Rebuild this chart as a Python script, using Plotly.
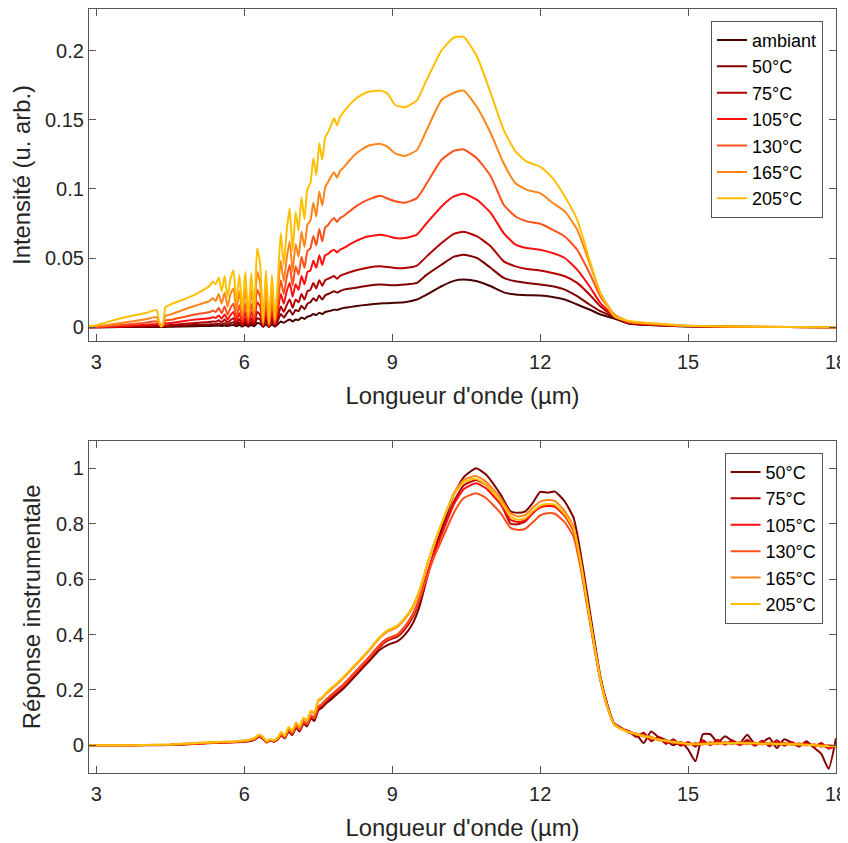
import plotly.graph_objects as go

# ---------------- Top panel data ----------------
x_top = [2.85, 3.0, 3.5, 4.0, 4.22, 4.27, 4.31, 4.35, 4.40, 4.5, 5.0,
         5.30, 5.36, 5.42, 5.48, 5.54, 5.60, 5.66, 5.72, 5.78, 5.84,
         5.90, 5.96, 6.02, 6.08, 6.14, 6.20, 6.26, 6.32, 6.38, 6.44,
         6.50, 6.56, 6.62, 6.68, 6.74, 6.80, 6.86, 6.92, 6.98, 7.04,
         7.10, 7.16, 7.22, 7.28, 7.34, 7.40, 7.46, 7.52, 7.58, 7.64,
         7.70, 7.76, 7.82, 7.88, 7.94, 8.00,
         8.25, 8.5,
         8.76, 8.9, 9.06, 9.25, 9.5, 9.7, 10.0, 10.25, 10.45, 10.72,
         11.0, 11.26, 11.5, 11.73, 12.0, 12.25, 12.5, 12.75, 13.0, 13.22,
         13.5, 13.8, 14.2, 14.6, 15.0, 16.0, 17.0, 18.0]

top_labels = ["ambiant", "50°C", "75°C", "105°C", "130°C", "165°C", "205°C"]

y_amb = [0, 0, 0.0001, 0.0002, 0.0002, 0.0002, 0.0001, 0.0001, 0.0002, 0.0003, 0.0007,
         0.0009, 0.001, 0.001, 0.0012, 0.0009, 0.0013, 0.0008, 0.0013, 0.0016, 0.0007,
         0.0015, 0.0005, 0.0017, 0.0004, 0.0017, 0.0007, 0.003, 0.0025, 0.0003, 0.0022,
         0.0002, 0.0021, 0.0004, 0.0021, 0.0042, 0.0032, 0.0045, 0.0056, 0.0042, 0.0056,
         0.0052, 0.007, 0.006, 0.0077, 0.0082, 0.0095, 0.0088, 0.0105, 0.0095, 0.011,
         0.0115, 0.012, 0.0127, 0.0125, 0.0132, 0.0138,
         0.0152, 0.0163,
         0.0171, 0.0174, 0.0176, 0.018, 0.020, 0.0236, 0.0296, 0.0335, 0.0344, 0.0332,
         0.0296, 0.0252, 0.0236, 0.0231, 0.0229, 0.0219, 0.020, 0.0164, 0.0128, 0.0092,
         0.0063, 0.0025, 0.0015, 0.001, 0.0005, 0.0002, 0.0001, 0.0]

y_50 = [0, 0, 0.0002, 0.0004, 0.0006, 0.0005, 0.0003, 0.0003, 0.0006, 0.0007, 0.0016,
        0.002, 0.0022, 0.0021, 0.0026, 0.0019, 0.0029, 0.0017, 0.0028, 0.0036, 0.0015,
        0.0034, 0.001, 0.0038, 0.0009, 0.0038, 0.0015, 0.0065, 0.0055, 0.0006, 0.005,
        0.0005, 0.0047, 0.0008, 0.0047, 0.0095, 0.007, 0.010, 0.0125, 0.009, 0.0125,
        0.0115, 0.0155, 0.013, 0.017, 0.018, 0.021, 0.019, 0.023, 0.020, 0.023,
        0.024, 0.025, 0.026, 0.025, 0.026, 0.027,
        0.0285, 0.030,
        0.0308, 0.0305, 0.0303, 0.0308, 0.032, 0.038, 0.0452, 0.051, 0.0524, 0.050,
        0.0428, 0.0356, 0.0332, 0.032, 0.0308, 0.0296, 0.0272, 0.0224, 0.0164, 0.0116,
        0.0072, 0.0028, 0.0018, 0.0012, 0.0006, 0.0002, 0.0001, 0.0]

y_75 = [0, 0, 0.0004, 0.0009, 0.0012, 0.001, 0.0006, 0.0006, 0.0013, 0.0015, 0.0031,
        0.0038, 0.0042, 0.004, 0.005, 0.0036, 0.0055, 0.0032, 0.0052, 0.0065, 0.0027,
        0.006, 0.0018, 0.0066, 0.0015, 0.0066, 0.0025, 0.011, 0.009, 0.001, 0.008,
        0.0007, 0.0075, 0.0013, 0.0075, 0.015, 0.011, 0.016, 0.020, 0.014, 0.020,
        0.018, 0.024, 0.020, 0.026, 0.027, 0.032, 0.028, 0.034, 0.030, 0.034,
        0.035, 0.036, 0.037, 0.035, 0.037, 0.038,
        0.041, 0.043,
        0.044, 0.0435, 0.0428, 0.0428, 0.0445, 0.0512, 0.0608, 0.0675, 0.069, 0.0656,
        0.0584, 0.0476, 0.044, 0.042, 0.041, 0.0392, 0.0368, 0.032, 0.0236, 0.0152,
        0.008, 0.003, 0.002, 0.0013, 0.0007, 0.0003, 0.0001, 0.0]

y_105 = [0, 0.0001, 0.0008, 0.0018, 0.0024, 0.002, 0.001, 0.001, 0.0027, 0.003, 0.0056,
         0.0065, 0.0072, 0.0068, 0.0085, 0.0062, 0.0092, 0.0055, 0.0088, 0.011, 0.0045,
         0.010, 0.003, 0.011, 0.0025, 0.011, 0.004, 0.018, 0.015, 0.0015, 0.013,
         0.001, 0.012, 0.002, 0.012, 0.024, 0.017, 0.026, 0.032, 0.022, 0.031,
         0.027, 0.037, 0.031, 0.040, 0.041, 0.048, 0.043, 0.052, 0.045, 0.052,
         0.053, 0.055, 0.056, 0.054, 0.056, 0.057,
         0.062, 0.0655,
         0.0669, 0.066, 0.0644, 0.0644, 0.0669, 0.0753, 0.0873, 0.0945, 0.0964, 0.092,
         0.0825, 0.068, 0.0597, 0.0572, 0.056, 0.0536, 0.050, 0.0416, 0.0296, 0.0176,
         0.008, 0.0034, 0.0022, 0.0014, 0.0008, 0.0003, 0.0001, 0.0]

y_130 = [0.0001, 0.0003, 0.0015, 0.0033, 0.0042, 0.003, 0.001, 0.0015, 0.0048, 0.0053, 0.0092,
         0.011, 0.012, 0.011, 0.014, 0.010, 0.015, 0.009, 0.014, 0.017, 0.007,
         0.016, 0.005, 0.017, 0.004, 0.017, 0.006, 0.027, 0.022, 0.002, 0.019,
         0.001, 0.018, 0.003, 0.017, 0.034, 0.024, 0.036, 0.045, 0.030, 0.044,
         0.038, 0.051, 0.043, 0.055, 0.057, 0.066, 0.059, 0.071, 0.062, 0.072,
         0.074, 0.077, 0.079, 0.076, 0.079, 0.080,
         0.087, 0.092,
         0.095, 0.093, 0.091, 0.090, 0.0933, 0.104, 0.121, 0.1275, 0.1285, 0.122,
         0.109, 0.0885, 0.080, 0.0765, 0.0748, 0.0705, 0.0656, 0.056, 0.0392, 0.0224,
         0.0092, 0.0037, 0.0025, 0.0016, 0.0009, 0.0004, 0.0001, 0.0]

y_165 = [0.0003, 0.0006, 0.003, 0.0058, 0.0072, 0.004, 0.001, 0.002, 0.0082, 0.0092, 0.0155,
         0.019, 0.021, 0.019, 0.024, 0.017, 0.025, 0.015, 0.024, 0.028, 0.012,
         0.026, 0.008, 0.028, 0.006, 0.027, 0.009, 0.040, 0.032, 0.003, 0.029,
         0.002, 0.027, 0.004, 0.025, 0.048, 0.033, 0.050, 0.062, 0.040, 0.060,
         0.051, 0.069, 0.058, 0.074, 0.077, 0.090, 0.080, 0.098, 0.088, 0.101,
         0.105, 0.109, 0.112, 0.108, 0.113, 0.115,
         0.125, 0.131,
         0.1325, 0.1305, 0.1257, 0.1238, 0.128, 0.1426, 0.1642, 0.1695, 0.171, 0.159,
         0.140, 0.1185, 0.104, 0.0993, 0.0969, 0.090, 0.0837, 0.0705, 0.0464, 0.0248,
         0.0092, 0.004, 0.0027, 0.0018, 0.001, 0.0004, 0.0001, 0.0]

y_205 = [0.0008, 0.0015, 0.0065, 0.0103, 0.0125, 0.004, 0.0005, 0.002, 0.0145, 0.0163, 0.0236,
         0.030, 0.033, 0.031, 0.036, 0.026, 0.037, 0.022, 0.035, 0.041, 0.018,
         0.038, 0.012, 0.040, 0.008, 0.039, 0.012, 0.057, 0.046, 0.004, 0.041,
         0.003, 0.038, 0.006, 0.034, 0.068, 0.045, 0.070, 0.086, 0.055, 0.083,
         0.070, 0.094, 0.078, 0.100, 0.104, 0.122, 0.110, 0.133, 0.121, 0.137,
         0.141, 0.146, 0.151, 0.146, 0.152, 0.155,
         0.165, 0.170,
         0.171, 0.169, 0.1606, 0.159, 0.164, 0.179, 0.200, 0.2094, 0.2098, 0.1955,
         0.169, 0.1426, 0.127, 0.1197, 0.116, 0.108, 0.0945, 0.0777, 0.0488, 0.0248,
         0.008, 0.0045, 0.003, 0.002, 0.001, 0.0005, 0.0002, 0.0]

top_series = [y_amb, y_50, y_75, y_105, y_130, y_165, y_205]
top_colors = ["#4a0000", "#800000", "#b30000", "#ff1010", "#ff4f1a", "#ff8419", "#ffbf00"]

# ---------------- Bottom panel data ----------------
x_bot = [2.85, 3.5, 4.0, 4.5, 5.0, 5.5, 5.8, 6.0, 6.1, 6.2,
         6.3, 6.38, 6.45, 6.52, 6.6, 6.68, 6.75, 6.82, 6.9, 6.97,
         7.05, 7.12, 7.2, 7.27, 7.35, 7.42, 7.5, 7.57, 7.65, 7.75,
         7.9, 8.0, 8.25, 8.5, 8.75, 8.9, 9.0, 9.1, 9.25, 9.4,
         9.55, 9.7, 9.85, 10.0, 10.25, 10.45, 10.7, 10.9, 11.2, 11.4,
         11.55, 11.7, 11.85, 12.0, 12.15, 12.3, 12.5, 12.68, 12.82, 12.95,
         13.1, 13.22, 13.36, 13.5, 13.65, 13.8, 13.95, 14.1, 14.25, 14.4,
         14.55, 14.7, 14.85, 15.0, 15.15, 15.3, 15.45, 15.6, 15.75, 15.9,
         16.05, 16.2, 16.35, 16.5, 16.65, 16.8, 16.95, 17.1, 17.25, 17.4,
         17.55, 17.7, 17.85, 18.0]

bot_labels = ["50°C", "75°C", "105°C", "130°C", "165°C", "205°C"]

r_50 = [0.0, 0.0, 0.0, 0.001, 0.005, 0.009, 0.011, 0.013, 0.015, 0.020,
        0.031, 0.023, 0.010, 0.017, 0.013, 0.021, 0.036, 0.025, 0.050, 0.037,
        0.063, 0.050, 0.078, 0.068, 0.097, 0.088, 0.126, 0.135, 0.150, 0.164,
        0.188, 0.203, 0.250, 0.298, 0.345, 0.362, 0.369, 0.375, 0.398, 0.435,
        0.500, 0.600, 0.700, 0.780, 0.905, 0.968, 1.000, 0.978, 0.905, 0.845,
        0.840, 0.845, 0.875, 0.915, 0.912, 0.916, 0.880, 0.820, 0.695, 0.550,
        0.380, 0.250, 0.150, 0.080, 0.063, 0.045, 0.040, 0.008, 0.050, 0.030,
        0.020, 0.000, 0.012, -0.015, -0.058, 0.040, 0.040, 0.010, 0.033, 0.015,
        0.008, 0.038, 0.005, 0.010, 0.026, -0.010, 0.022, 0.010, -0.004, 0.015,
        -0.008, -0.030, -0.085, 0.026]

r_75 = [0.0, 0.0, 0.001, 0.002, 0.006, 0.010, 0.012, 0.014, 0.016, 0.021,
        0.033, 0.025, 0.011, 0.018, 0.014, 0.023, 0.039, 0.027, 0.054, 0.040,
        0.068, 0.054, 0.083, 0.073, 0.103, 0.095, 0.133, 0.142, 0.158, 0.172,
        0.195, 0.210, 0.257, 0.305, 0.356, 0.378, 0.385, 0.392, 0.418, 0.458,
        0.520, 0.610, 0.695, 0.765, 0.880, 0.938, 0.958, 0.940, 0.875, 0.800,
        0.798, 0.808, 0.840, 0.862, 0.868, 0.865, 0.832, 0.778, 0.662, 0.522,
        0.360, 0.242, 0.142, 0.077, 0.060, 0.052, 0.030, 0.045, 0.015, 0.030,
        0.005, 0.022, -0.002, 0.012, -0.005, 0.018, 0.000, 0.020, 0.002, 0.018,
        0.000, 0.020, -0.002, 0.016, -0.004, 0.018, -0.002, 0.012, -0.004, 0.010,
        -0.006, 0.008, -0.012, 0.004]

r_105 = [0.0, 0.0, 0.001, 0.002, 0.006, 0.010, 0.012, 0.015, 0.017, 0.022,
         0.035, 0.026, 0.012, 0.019, 0.015, 0.024, 0.041, 0.029, 0.057, 0.043,
         0.071, 0.057, 0.087, 0.077, 0.108, 0.100, 0.140, 0.148, 0.164, 0.180,
         0.203, 0.218, 0.265, 0.313, 0.363, 0.385, 0.392, 0.400, 0.428, 0.468,
         0.530, 0.615, 0.695, 0.760, 0.870, 0.925, 0.946, 0.928, 0.870, 0.814,
         0.806, 0.812, 0.838, 0.858, 0.864, 0.861, 0.828, 0.772, 0.655, 0.515,
         0.355, 0.238, 0.140, 0.076, 0.059, 0.050, 0.038, 0.036, 0.024, 0.024,
         0.012, 0.014, 0.004, 0.010, 0.001, 0.012, 0.003, 0.013, 0.004, 0.012,
         0.003, 0.012, 0.002, 0.011, 0.003, 0.010, 0.000, 0.009, 0.001, 0.006,
         -0.002, 0.003, -0.010, -0.004]

r_130 = [0.0, 0.0, 0.001, 0.002, 0.006, 0.010, 0.012, 0.015, 0.017, 0.022,
         0.034, 0.026, 0.012, 0.019, 0.015, 0.024, 0.040, 0.028, 0.056, 0.042,
         0.070, 0.056, 0.085, 0.076, 0.106, 0.098, 0.138, 0.146, 0.162, 0.178,
         0.200, 0.215, 0.262, 0.310, 0.360, 0.382, 0.390, 0.398, 0.425, 0.465,
         0.525, 0.605, 0.680, 0.740, 0.840, 0.893, 0.910, 0.893, 0.838, 0.785,
         0.778, 0.782, 0.805, 0.830, 0.838, 0.836, 0.805, 0.752, 0.640, 0.505,
         0.350, 0.235, 0.140, 0.078, 0.060, 0.048, 0.043, 0.032, 0.031, 0.018,
         0.019, 0.008, 0.011, 0.002, 0.008, 0.003, 0.011, 0.004, 0.012, 0.005,
         0.011, 0.004, 0.010, 0.003, 0.009, 0.002, 0.009, 0.001, 0.007, -0.001,
         0.004, -0.005, 0.001, -0.006]

r_165 = [0.0, 0.0, 0.001, 0.003, 0.008, 0.012, 0.014, 0.017, 0.019, 0.025,
         0.037, 0.029, 0.014, 0.021, 0.017, 0.027, 0.046, 0.033, 0.064, 0.050,
         0.080, 0.066, 0.097, 0.088, 0.121, 0.114, 0.160, 0.168, 0.184, 0.200,
         0.224, 0.241, 0.288, 0.336, 0.388, 0.410, 0.418, 0.427, 0.455, 0.492,
         0.555, 0.645, 0.728, 0.800, 0.910, 0.958, 0.972, 0.952, 0.892, 0.838,
         0.826, 0.832, 0.858, 0.880, 0.886, 0.882, 0.846, 0.788, 0.668, 0.525,
         0.362, 0.242, 0.142, 0.077, 0.058, 0.048, 0.041, 0.034, 0.030, 0.020,
         0.017, 0.011, 0.009, 0.004, 0.006, 0.004, 0.008, 0.006, 0.009, 0.006,
         0.010, 0.006, 0.008, 0.005, 0.007, 0.004, 0.007, 0.003, 0.005, 0.001,
         0.002, -0.003, -0.001, -0.004]

r_205 = [0.0, 0.0, 0.001, 0.003, 0.008, 0.012, 0.014, 0.017, 0.020, 0.026,
         0.038, 0.030, 0.015, 0.022, 0.018, 0.028, 0.048, 0.035, 0.066, 0.052,
         0.082, 0.068, 0.100, 0.090, 0.125, 0.118, 0.165, 0.172, 0.188, 0.205,
         0.228, 0.245, 0.292, 0.340, 0.392, 0.415, 0.423, 0.432, 0.460, 0.497,
         0.560, 0.650, 0.730, 0.800, 0.905, 0.950, 0.962, 0.940, 0.880, 0.826,
         0.814, 0.820, 0.845, 0.865, 0.871, 0.868, 0.835, 0.780, 0.660, 0.520,
         0.360, 0.240, 0.140, 0.075, 0.058, 0.047, 0.040, 0.033, 0.027, 0.021,
         0.016, 0.012, 0.008, 0.005, 0.004, 0.005, 0.006, 0.007, 0.007, 0.008,
         0.008, 0.007, 0.007, 0.006, 0.006, 0.005, 0.005, 0.004, 0.003, 0.002,
         0.000, -0.002, -0.003, -0.002]

bot_series = [r_50, r_75, r_105, r_130, r_165, r_205]
bot_colors = ["#800000", "#b30000", "#ff1010", "#ff4f1a", "#ff8419", "#ffbf00"]

top_yticks = [0, 0.05, 0.1, 0.15, 0.2]
top_yticktext = ["0", "0.05", "0.1", "0.15", "0.2"]
bot_yticks = [0, 0.2, 0.4, 0.6, 0.8, 1]
bot_yticktext = ["0", "0.2", "0.4", "0.6", "0.8", "1"]
x_ticks = [3, 6, 9, 12, 15, 18]

FONT = "Liberation Sans, Arial, sans-serif"
INK = "#262626"
FRAME = "#555555"

fig = go.Figure()
for lab, ys, col in zip(top_labels, top_series, top_colors):
    fig.add_trace(go.Scatter(x=x_top, y=ys, name=lab, mode="lines",
                             line=dict(color=col, width=2, shape="spline", smoothing=0.5),
                             xaxis="x", yaxis="y", legend="legend"))
for lab, ys, col in zip(bot_labels, bot_series, bot_colors):
    fig.add_trace(go.Scatter(x=x_bot, y=ys, name=lab, mode="lines",
                             line=dict(color=col, width=2, shape="spline", smoothing=0.5),
                             xaxis="x2", yaxis="y2", legend="legend2"))

axis_common = dict(showline=True, linecolor=FRAME, linewidth=1.2, mirror="ticks",
                   ticks="inside", ticklen=7, tickcolor=FRAME, tickwidth=1,
                   showgrid=False, zeroline=False, automargin=False,
                   tickfont=dict(family=FONT, size=20, color=INK))
title_font = dict(family=FONT, size=23.8, color=INK)

# the page body adds an 8 px offset, so the figure is 8 px smaller than the window
fig.update_layout(
    width=840, height=835,
    paper_bgcolor="white", plot_bgcolor="white",
    margin=dict(l=81, r=12, t=1, b=70),
    showlegend=True,
    xaxis=dict(domain=[0, 1], range=[2.85, 18], tickvals=x_ticks, anchor="y",
               ticklabelstandoff=3,
               title=dict(text="Longueur d'onde (µm)", font=title_font, standoff=15),
               **axis_common),
    yaxis=dict(domain=[0.5654, 1], range=[-0.01, 0.23], tickvals=top_yticks,
               ticktext=top_yticktext, anchor="x",
               title=dict(text="Intensité (u. arb.)", font=title_font, standoff=8),
               **axis_common),
    xaxis2=dict(domain=[0, 1], range=[2.85, 18], tickvals=x_ticks, anchor="y2",
                ticklabelstandoff=3,
                title=dict(text="Longueur d'onde (µm)", font=title_font, standoff=15),
                **axis_common),
    yaxis2=dict(domain=[0, 0.435], range=[-0.1, 1.1], tickvals=bot_yticks,
                ticktext=bot_yticktext, anchor="x2",
                title=dict(text="Réponse instrumentale", font=title_font, standoff=8),
                **axis_common),
    legend=dict(x=0.9826, y=0.9847, xanchor="right", yanchor="top",
                bgcolor="white", bordercolor=FRAME, borderwidth=1,
                font=dict(family=FONT, size=18, color="black"),
                tracegroupgap=0),
    legend2=dict(x=0.982, y=0.4192, xanchor="right", yanchor="top",
                 bgcolor="white", bordercolor=FRAME, borderwidth=1,
                 font=dict(family=FONT, size=18, color="black"),
                 tracegroupgap=0),
)

fig.write_html("out.html")
